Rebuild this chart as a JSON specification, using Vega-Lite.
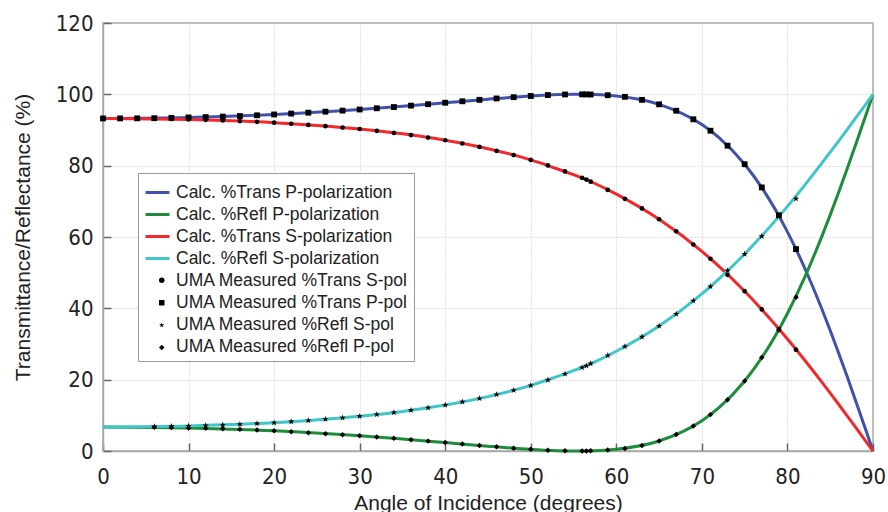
{
  "$schema": "https://vega.github.io/schema/vega-lite/v6.json",
  "width": 770,
  "height": 428,
  "autosize": {"type": "none"},
  "padding": {"left": 103, "top": 23, "right": 15, "bottom": 61},
  "config": {
    "view": {"stroke": "#a8a8a8", "strokeWidth": 1.5},
    "axis": {
      "labelFont": "DejaVu Sans Condensed, Liberation Sans Narrow, sans-serif",
      "labelFontSize": 22,
      "labelColor": "#222222",
      "labelFlush": false,
      "titleFont": "Liberation Sans, Arial, sans-serif",
      "titleFontSize": 21,
      "titleFontWeight": "normal",
      "titleColor": "#222222",
      "domainColor": "#a8a8a8",
      "domainWidth": 1.5,
      "tickColor": "#666666",
      "tickWidth": 1.5,
      "gridColor": "#c4c4c4",
      "gridDash": [1, 2],
      "gridWidth": 1
    },
    "axisX": {"tickCount": 9, "tickSize": -8, "labelPadding": 23, "titlePadding": 5},
    "axisY": {"tickCount": 6, "tickSize": -8, "labelPadding": 18, "titlePadding": 22}
  },
  "datasets": {
    "cTp": [
      {"a": 0, "v": 93.24}, {"a": 10, "v": 93.52}, {"a": 20, "v": 94.35}, {"a": 30, "v": 95.75}, {"a": 35, "v": 96.64},
      {"a": 40, "v": 97.64}, {"a": 45, "v": 98.65}, {"a": 50, "v": 99.53}, {"a": 52.5, "v": 99.85}, {"a": 55, "v": 99.99},
      {"a": 57.5, "v": 99.93}, {"a": 60, "v": 99.52}, {"a": 65, "v": 97.2}, {"a": 70, "v": 91.53}, {"a": 72, "v": 87.86},
      {"a": 75, "v": 80.38}, {"a": 77, "v": 73.84}, {"a": 80, "v": 61.44}, {"a": 82, "v": 51.38}, {"a": 84, "v": 39.95},
      {"a": 85, "v": 33.79}, {"a": 86, "v": 27.36}, {"a": 87, "v": 20.72}, {"a": 88, "v": 13.91}, {"a": 89, "v": 6.98}, {"a": 90, "v": 0}
    ],
    "cRp": [
      {"a": 0, "v": 6.76}, {"a": 10, "v": 6.48}, {"a": 20, "v": 5.65}, {"a": 30, "v": 4.25}, {"a": 35, "v": 3.36},
      {"a": 40, "v": 2.36}, {"a": 45, "v": 1.35}, {"a": 50, "v": 0.47}, {"a": 52.5, "v": 0.15}, {"a": 55, "v": 0.01},
      {"a": 57.5, "v": 0.07}, {"a": 60, "v": 0.48}, {"a": 65, "v": 2.8}, {"a": 70, "v": 8.47}, {"a": 72, "v": 12.14},
      {"a": 75, "v": 19.62}, {"a": 77, "v": 26.16}, {"a": 80, "v": 38.56}, {"a": 82, "v": 48.62}, {"a": 84, "v": 60.05},
      {"a": 85, "v": 66.21}, {"a": 86, "v": 72.64}, {"a": 87, "v": 79.28}, {"a": 88, "v": 86.09}, {"a": 89, "v": 93.02}, {"a": 90, "v": 100}
    ],
    "cTs": [
      {"a": 0, "v": 93.24}, {"a": 10, "v": 92.97}, {"a": 20, "v": 92.06}, {"a": 30, "v": 90.28}, {"a": 35, "v": 88.92},
      {"a": 40, "v": 87.12}, {"a": 45, "v": 84.75}, {"a": 50, "v": 81.61}, {"a": 52.5, "v": 79.6}, {"a": 55, "v": 77.47},
      {"a": 57.5, "v": 75.0}, {"a": 60, "v": 72.04}, {"a": 65, "v": 64.98}, {"a": 70, "v": 55.97}, {"a": 72, "v": 51.76},
      {"a": 75, "v": 44.78}, {"a": 77, "v": 39.68}, {"a": 80, "v": 31.41}, {"a": 82, "v": 25.51}, {"a": 84, "v": 19.37},
      {"a": 85, "v": 16.22}, {"a": 86, "v": 13.03}, {"a": 87, "v": 9.8}, {"a": 88, "v": 6.55}, {"a": 89, "v": 3.28}, {"a": 90, "v": 0}
    ],
    "cRs": [
      {"a": 0, "v": 6.76}, {"a": 10, "v": 7.03}, {"a": 20, "v": 7.94}, {"a": 30, "v": 9.72}, {"a": 35, "v": 11.08},
      {"a": 40, "v": 12.88}, {"a": 45, "v": 15.25}, {"a": 50, "v": 18.39}, {"a": 52.5, "v": 20.4}, {"a": 55, "v": 22.53},
      {"a": 57.5, "v": 25.0}, {"a": 60, "v": 27.96}, {"a": 65, "v": 35.02}, {"a": 70, "v": 44.03}, {"a": 72, "v": 48.24},
      {"a": 75, "v": 55.22}, {"a": 77, "v": 60.32}, {"a": 80, "v": 68.59}, {"a": 82, "v": 74.49}, {"a": 84, "v": 80.63},
      {"a": 85, "v": 83.78}, {"a": 86, "v": 86.97}, {"a": 87, "v": 90.2}, {"a": 88, "v": 93.45}, {"a": 89, "v": 96.72}, {"a": 90, "v": 100}
    ],
    "mTs": [
      {"a": 0, "v": 93.24}, {"a": 2, "v": 93.23}, {"a": 4, "v": 93.2}, {"a": 6, "v": 93.14}, {"a": 8, "v": 93.06},
      {"a": 10, "v": 92.97}, {"a": 12, "v": 92.85}, {"a": 14, "v": 92.69}, {"a": 16, "v": 92.51}, {"a": 18, "v": 92.3},
      {"a": 20, "v": 92.06}, {"a": 22, "v": 91.76}, {"a": 24, "v": 91.43}, {"a": 26, "v": 91.07}, {"a": 28, "v": 90.69},
      {"a": 30, "v": 90.28}, {"a": 32, "v": 89.76}, {"a": 34, "v": 89.19}, {"a": 36, "v": 88.57}, {"a": 38, "v": 87.88},
      {"a": 40, "v": 87.12}, {"a": 42, "v": 86.22}, {"a": 44, "v": 85.25}, {"a": 46, "v": 84.17}, {"a": 48, "v": 82.97},
      {"a": 50, "v": 81.61}, {"a": 52, "v": 80.07}, {"a": 54, "v": 78.38}, {"a": 56, "v": 76.6}, {"a": 56.5, "v": 76.1},
      {"a": 57, "v": 75.5}, {"a": 59, "v": 73.2}, {"a": 61, "v": 70.7}, {"a": 63, "v": 68.0}, {"a": 65, "v": 64.98},
      {"a": 67, "v": 61.6}, {"a": 69, "v": 57.9}, {"a": 71, "v": 53.9}, {"a": 73, "v": 49.4}, {"a": 75, "v": 44.8},
      {"a": 77, "v": 39.7}, {"a": 79, "v": 34.2}, {"a": 81, "v": 28.4}
    ],
    "mTp": [
      {"a": 0, "v": 93.24}, {"a": 2, "v": 93.25}, {"a": 4, "v": 93.27}, {"a": 6, "v": 93.31}, {"a": 8, "v": 93.4},
      {"a": 10, "v": 93.52}, {"a": 12, "v": 93.62}, {"a": 14, "v": 93.76}, {"a": 16, "v": 93.92}, {"a": 18, "v": 94.12},
      {"a": 20, "v": 94.35}, {"a": 22, "v": 94.6}, {"a": 24, "v": 94.86}, {"a": 26, "v": 95.14}, {"a": 28, "v": 95.44},
      {"a": 30, "v": 95.75}, {"a": 32, "v": 96.09}, {"a": 34, "v": 96.44}, {"a": 36, "v": 96.83}, {"a": 38, "v": 97.23},
      {"a": 40, "v": 97.64}, {"a": 42, "v": 98.05}, {"a": 44, "v": 98.46}, {"a": 46, "v": 98.84}, {"a": 48, "v": 99.2},
      {"a": 50, "v": 99.53}, {"a": 52, "v": 99.8}, {"a": 54, "v": 99.96}, {"a": 56, "v": 99.99}, {"a": 56.5, "v": 99.98},
      {"a": 57, "v": 99.95}, {"a": 59, "v": 99.75}, {"a": 61, "v": 99.3}, {"a": 63, "v": 98.45}, {"a": 65, "v": 97.2},
      {"a": 67, "v": 95.4}, {"a": 69, "v": 93.0}, {"a": 71, "v": 89.8}, {"a": 73, "v": 85.6}, {"a": 75, "v": 80.4},
      {"a": 77, "v": 73.9}, {"a": 79, "v": 66.1}, {"a": 81, "v": 56.6}
    ],
    "mRs": [
      {"a": 6, "v": 6.86}, {"a": 8, "v": 6.94}, {"a": 10, "v": 7.03}, {"a": 12, "v": 7.15}, {"a": 14, "v": 7.31},
      {"a": 16, "v": 7.49}, {"a": 18, "v": 7.7}, {"a": 20, "v": 7.94}, {"a": 22, "v": 8.24}, {"a": 24, "v": 8.57},
      {"a": 26, "v": 8.93}, {"a": 28, "v": 9.31}, {"a": 30, "v": 9.72}, {"a": 32, "v": 10.24}, {"a": 34, "v": 10.81},
      {"a": 36, "v": 11.43}, {"a": 38, "v": 12.12}, {"a": 40, "v": 12.88}, {"a": 42, "v": 13.78}, {"a": 44, "v": 14.75},
      {"a": 46, "v": 15.83}, {"a": 48, "v": 17.03}, {"a": 50, "v": 18.39}, {"a": 52, "v": 19.93}, {"a": 54, "v": 21.62},
      {"a": 56, "v": 23.4}, {"a": 56.5, "v": 23.9}, {"a": 57, "v": 24.5}, {"a": 59, "v": 26.8}, {"a": 61, "v": 29.3},
      {"a": 63, "v": 32.0}, {"a": 65, "v": 35.02}, {"a": 67, "v": 38.4}, {"a": 69, "v": 42.1}, {"a": 71, "v": 46.1},
      {"a": 73, "v": 50.6}, {"a": 75, "v": 55.2}, {"a": 77, "v": 60.2}, {"a": 79, "v": 65.9}, {"a": 81, "v": 70.7}
    ],
    "mRp": [
      {"a": 6, "v": 6.69}, {"a": 8, "v": 6.6}, {"a": 10, "v": 6.48}, {"a": 12, "v": 6.38}, {"a": 14, "v": 6.24},
      {"a": 16, "v": 6.08}, {"a": 18, "v": 5.88}, {"a": 20, "v": 5.65}, {"a": 22, "v": 5.4}, {"a": 24, "v": 5.14},
      {"a": 26, "v": 4.86}, {"a": 28, "v": 4.56}, {"a": 30, "v": 4.25}, {"a": 32, "v": 3.91}, {"a": 34, "v": 3.56},
      {"a": 36, "v": 3.17}, {"a": 38, "v": 2.77}, {"a": 40, "v": 2.36}, {"a": 42, "v": 1.95}, {"a": 44, "v": 1.54},
      {"a": 46, "v": 1.16}, {"a": 48, "v": 0.8}, {"a": 50, "v": 0.47}, {"a": 52, "v": 0.2}, {"a": 54, "v": 0.04},
      {"a": 56, "v": 0.01}, {"a": 56.5, "v": 0.02}, {"a": 57, "v": 0.05}, {"a": 59, "v": 0.25}, {"a": 61, "v": 0.7},
      {"a": 63, "v": 1.55}, {"a": 65, "v": 2.8}, {"a": 67, "v": 4.6}, {"a": 69, "v": 7.0}, {"a": 71, "v": 10.2},
      {"a": 73, "v": 14.4}, {"a": 75, "v": 19.6}, {"a": 77, "v": 26.2}, {"a": 79, "v": 33.9}, {"a": 81, "v": 43.1}
    ]
  },
  "encoding": {
    "x": {"field": "a", "type": "quantitative", "title": "Angle of Incidence (degrees)", "scale": {"domain": [0, 90], "nice": false, "zero": false}},
    "y": {"field": "v", "type": "quantitative", "title": "Transmittance/Reflectance (%)", "scale": {"domain": [0, 120], "nice": false}}
  },
  "layer": [
    {
      "data": {"name": "cTp"},
      "mark": {"type": "line", "strokeWidth": 3, "interpolate": "monotone"},
      "encoding": {
        "color": {
          "datum": "Calc. %Trans P-polarization",
          "type": "nominal",
          "scale": {
            "domain": ["Calc. %Trans P-polarization", "Calc. %Refl P-polarization", "Calc. %Trans S-polarization", "Calc. %Refl S-polarization", "UMA Measured %Trans S-pol", "UMA Measured %Trans P-pol", "UMA Measured %Refl S-pol", "UMA Measured %Refl P-pol"],
            "range": ["#3f51a8", "#1e8c3a", "#f2282d", "#3fc6c8", "transparent", "transparent", "transparent", "transparent"]
          },
          "legend": {
            "orient": "none",
            "legendX": 35,
            "legendY": 150,
            "title": null,
            "labelFont": "Liberation Sans, Arial, sans-serif",
            "labelFontSize": 17.5,
            "labelColor": "#222222",
            "labelLimit": 400,
            "labelOffset": 5,
            "symbolSize": 576,
            "symbolType": "stroke",
            "symbolStrokeWidth": 3,
            "rowPadding": -0.4,
            "padding": 6,
            "strokeColor": "#999999",
            "fillColor": "#ffffff"
          }
        }
      }
    },
    {
      "data": {"name": "cRp"},
      "mark": {"type": "line", "strokeWidth": 3, "interpolate": "monotone"},
      "encoding": {"color": {"datum": "Calc. %Refl P-polarization", "type": "nominal"}}
    },
    {
      "data": {"name": "cTs"},
      "mark": {"type": "line", "strokeWidth": 3, "interpolate": "monotone"},
      "encoding": {"color": {"datum": "Calc. %Trans S-polarization", "type": "nominal"}}
    },
    {
      "data": {"name": "cRs"},
      "mark": {"type": "line", "strokeWidth": 3, "interpolate": "monotone"},
      "encoding": {"color": {"datum": "Calc. %Refl S-polarization", "type": "nominal"}}
    },
    {
      "data": {"name": "mTs"},
      "mark": {"type": "point", "filled": true, "opacity": 1, "color": "#000000", "size": 22},
      "encoding": {
        "shape": {
          "datum": "UMA Measured %Trans S-pol",
          "type": "nominal",
          "scale": {
            "domain": ["UMA Measured %Trans S-pol", "UMA Measured %Trans P-pol", "UMA Measured %Refl S-pol", "UMA Measured %Refl P-pol"],
            "range": ["circle", "square", "M0,-1L0.22,-0.3L0.95,-0.3L0.36,0.12L0.59,0.81L0,0.38L-0.59,0.81L-0.36,0.12L-0.95,-0.3L-0.22,-0.3Z", "diamond"]
          },
          "legend": {
            "orient": "none",
            "legendX": 44,
            "legendY": 242.6,
            "title": null,
            "labelExpr": "''",
            "labelFontSize": 17.5,
            "labelOffset": 0,
            "symbolSize": 30,
            "symbolFillColor": "#000000",
            "symbolStrokeColor": "#000000",
            "symbolStrokeWidth": 0.5,
            "rowPadding": 3.4,
            "padding": 6,
            "strokeColor": "transparent",
            "fillColor": "transparent"
          }
        }
      }
    },
    {
      "data": {"name": "mTp"},
      "mark": {"type": "point", "filled": true, "opacity": 1, "color": "#000000", "size": 34},
      "encoding": {"shape": {"datum": "UMA Measured %Trans P-pol", "type": "nominal"}}
    },
    {
      "data": {"name": "mRs"},
      "mark": {"type": "point", "filled": true, "opacity": 1, "color": "#000000", "size": 45},
      "encoding": {"shape": {"datum": "UMA Measured %Refl S-pol", "type": "nominal"}}
    },
    {
      "data": {"name": "mRp"},
      "mark": {"type": "point", "filled": true, "opacity": 1, "color": "#000000", "size": 30},
      "encoding": {"shape": {"datum": "UMA Measured %Refl P-pol", "type": "nominal"}}
    }
  ]
}
